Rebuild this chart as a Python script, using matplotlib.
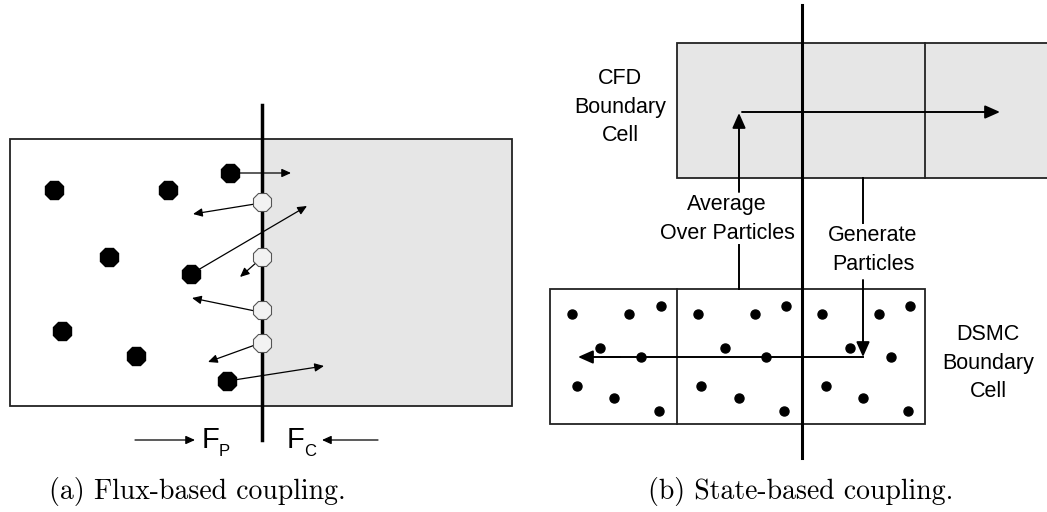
import matplotlib.pyplot as plt

# ── Panel (a): flux-based coupling ───────────────────────────────────────────
# pixel coordinates (x, y) measured from the top-left of the picture
particulas_llenas = [(230, 173), (54, 190), (168, 190), (109, 257),
                     (191, 274), (62, 331), (136, 356), (227, 381)]
particulas_huecas = [(262, 202), (262, 257), (262, 310), (262, 343)]
# arrows: (x0, y0, x1, y1)
flechas_a = [(238, 173, 291, 173),
             (255, 204, 193, 214),
             (198, 270, 307, 206),
             (257, 262, 240, 277),
             (255, 311, 192, 298),
             (255, 345, 208, 362),
             (234, 380, 324, 366)]

# ── Panel (b): state-based coupling ──────────────────────────────────────────
puntos_dsmc = [(572, 314), (629, 314), (661, 306), (600, 348), (641, 357),
               (577, 386), (614, 398), (659, 411),
               (698, 314), (755, 314), (786, 306), (725, 348), (766, 357),
               (701, 386), (739, 398), (784, 411),
               (822, 314), (879, 314), (910, 306), (850, 348), (891, 357),
               (826, 386), (863, 398), (908, 411)]

GRIS = '#e6e6e6'
SANS = 'Liberation Sans'

fig = plt.figure(figsize=(10.47, 5.12), dpi=100)
ax = fig.add_axes([0, 0, 1, 1])
ax.set_xlim(0, 1047)
ax.set_ylim(512, 0)
ax.axis('off')


def flecha(x0, y0, x1, y1, lw=1.0, hl=0.6, hw=0.3):
    ax.annotate('', xy=(x1, y1), xytext=(x0, y0),
                arrowprops=dict(arrowstyle=f'-|>,head_length={hl},head_width={hw}',
                                color='black', lw=lw, shrinkA=0, shrinkB=0),
                zorder=4)


# ── (a) ──
ax.add_patch(plt.Rectangle((262, 139), 250, 267, facecolor=GRIS, edgecolor='none', zorder=0))
ax.add_patch(plt.Rectangle((10, 139), 502, 267, facecolor='none', edgecolor='#222222', lw=1.3, zorder=1))
ax.plot([262, 262], [105, 440], color='black', lw=2.5, zorder=2)

for x0, y0, x1, y1 in flechas_a:
    flecha(x0, y0, x1, y1, lw=0.9, hl=0.55, hw=0.25)

xs, ys = zip(*particulas_llenas)
ax.plot(xs, ys, '8', color='black', markersize=14, zorder=5)
xh, yh = zip(*particulas_huecas)
ax.plot(xh, yh, '8', markerfacecolor='#f2f2f2', markeredgecolor='#555555',
        markeredgewidth=0.8, markersize=13.5, zorder=5)

flecha(135, 440, 195, 440, lw=0.9, hl=0.55, hw=0.25)
flecha(378, 440, 322, 440, lw=0.9, hl=0.55, hw=0.25)
ax.text(202, 440, 'F', fontsize=21, family=SANS, va='center', ha='left')
ax.text(219, 451, 'P', fontsize=12, family=SANS, va='center', ha='left')
ax.text(287, 440, 'F', fontsize=21, family=SANS, va='center', ha='left')
ax.text(304, 451, 'C', fontsize=12, family=SANS, va='center', ha='left')

ax.text(197, 491, '(a) Flux-based coupling.', fontsize=20, family='cmr10',
        ha='center', va='center')

# ── (b) ──
ax.add_patch(plt.Rectangle((677, 43), 380, 135, facecolor=GRIS, edgecolor='#222222', lw=1.3, zorder=0))
ax.plot([925, 925], [43, 178], color='#222222', lw=1.3, zorder=1)
ax.add_patch(plt.Rectangle((550, 289), 375, 135, facecolor='white', edgecolor='#222222', lw=1.3, zorder=0))
ax.plot([677, 677], [289, 424], color='#222222', lw=1.3, zorder=1)
ax.plot([802, 802], [5, 458], color='black', lw=2.2, zorder=2)

flecha(742, 112, 1000, 112, lw=1.4, hl=0.9, hw=0.4)
flecha(739, 192, 739, 113, lw=1.4, hl=0.9, hw=0.4)
ax.plot([739, 739], [245, 289], color='black', lw=1.4)
ax.plot([863, 863], [178, 223], color='black', lw=1.4)
flecha(863, 280, 863, 357, lw=1.4, hl=0.9, hw=0.4)
ax.plot([863, 602], [357, 357], color='black', lw=1.4)
flecha(620, 357, 578, 357, lw=1.4, hl=0.9, hw=0.4)

xd, yd = zip(*puntos_dsmc)
ax.plot(xd, yd, 'o', color='black', markersize=6.5, zorder=5)

ax.text(620, 107, 'CFD\nBoundary\nCell', fontsize=15.5, family=SANS,
        ha='center', va='center', linespacing=1.45)
ax.text(727, 219, 'Average\nOver Particles', fontsize=15.5, family=SANS,
        ha='center', va='center', linespacing=1.45)
ax.text(873, 250, 'Generate\nParticles', fontsize=15.5, family=SANS,
        ha='center', va='center', linespacing=1.45)
ax.text(988, 363, 'DSMC\nBoundary\nCell', fontsize=15.5, family=SANS,
        ha='center', va='center', linespacing=1.45)

ax.text(801, 491, '(b) State-based coupling.', fontsize=20, family='cmr10',
        ha='center', va='center')

plt.savefig('out.png', dpi=100)
